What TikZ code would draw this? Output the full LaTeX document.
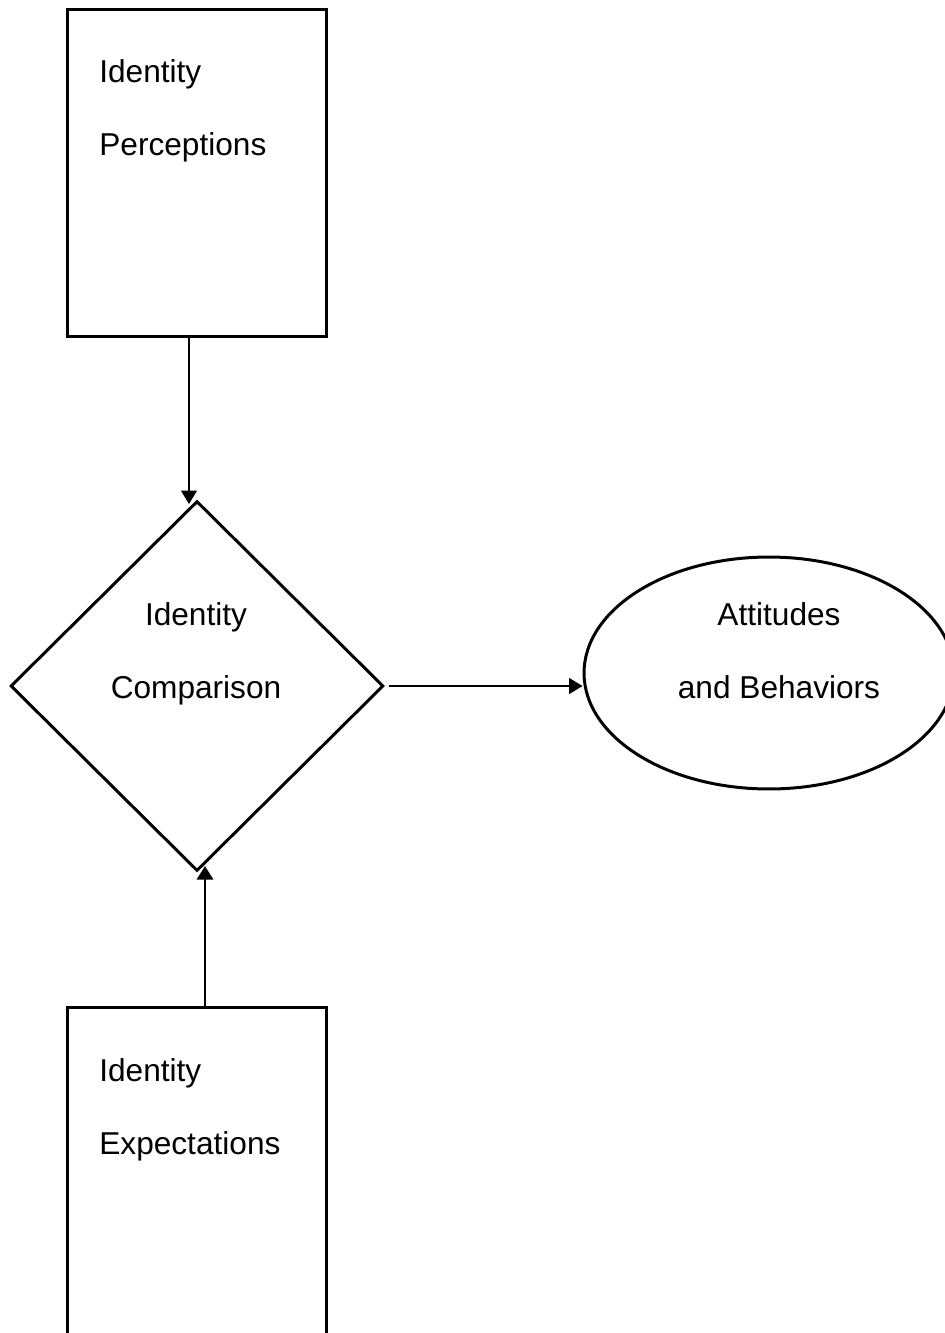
\documentclass[tikz,border=0pt]{standalone}
\usepackage{fontspec}
\setmainfont{Liberation Sans}
\usetikzlibrary{arrows.meta,positioning,shapes.geometric}

\begin{document}
\begin{tikzpicture}[x=0.02cm, y=-0.02cm,
  frame/.style={draw, line width=1.7pt, minimum width=5.2cm, minimum height=6.56cm, inner sep=0},
  txt/.style={inner sep=0, font=\fontsize{18pt}{41.5pt}\selectfont},
  arr/.style={-{Triangle[width=0.32cm, length=0.27cm]}, line width=0.8pt}]
  \useasboundingbox (0,0) rectangle (944,1333);

  % Identity perceptions
  \node[frame] (perc) at (197,173) {};
  \node[txt, anchor=north west, align=left] (perctxt) at (99,59) {Identity\\Perceptions};

  % Identity comparison
  \node[draw, diamond, line width=1.7pt, minimum width=7.46cm, minimum height=7.4cm, inner sep=0] (cmp) at (197,686) {};
  \node[txt, anchor=north, align=center] (cmptxt) at (196,602) {Identity\\Comparison};

  % Attitudes and behaviors
  \node[draw, ellipse, line width=1.7pt, minimum width=7.4cm, minimum height=4.64cm, inner sep=0] (att) at (769,673) {};
  \node[txt, anchor=north, align=center] (atttxt) at (779,602) {Attitudes\\and Behaviors};

  % Identity expectations
  \node[frame] (expt) at (197,1171) {};
  \node[txt, anchor=north west, align=left] (expttxt) at (99,1058) {Identity\\Expectations};

  % Links
  \coordinate (p1) at ([xshift=-0.16cm]perc.south);
  \coordinate (p2) at (p1 |- 0,504);
  \draw[arr] (p1) -- (p2);
  \coordinate (c1) at ([xshift=0.08cm]cmp.east);
  \draw[arr] (c1) -- (c1 -| att.west);
  \coordinate (e1) at ([xshift=0.16cm]expt.north);
  \coordinate (e2) at (e1 |- 0,866);
  \draw[arr, line width=1.7pt] (e1) -- (e2);
\end{tikzpicture}
\end{document}
